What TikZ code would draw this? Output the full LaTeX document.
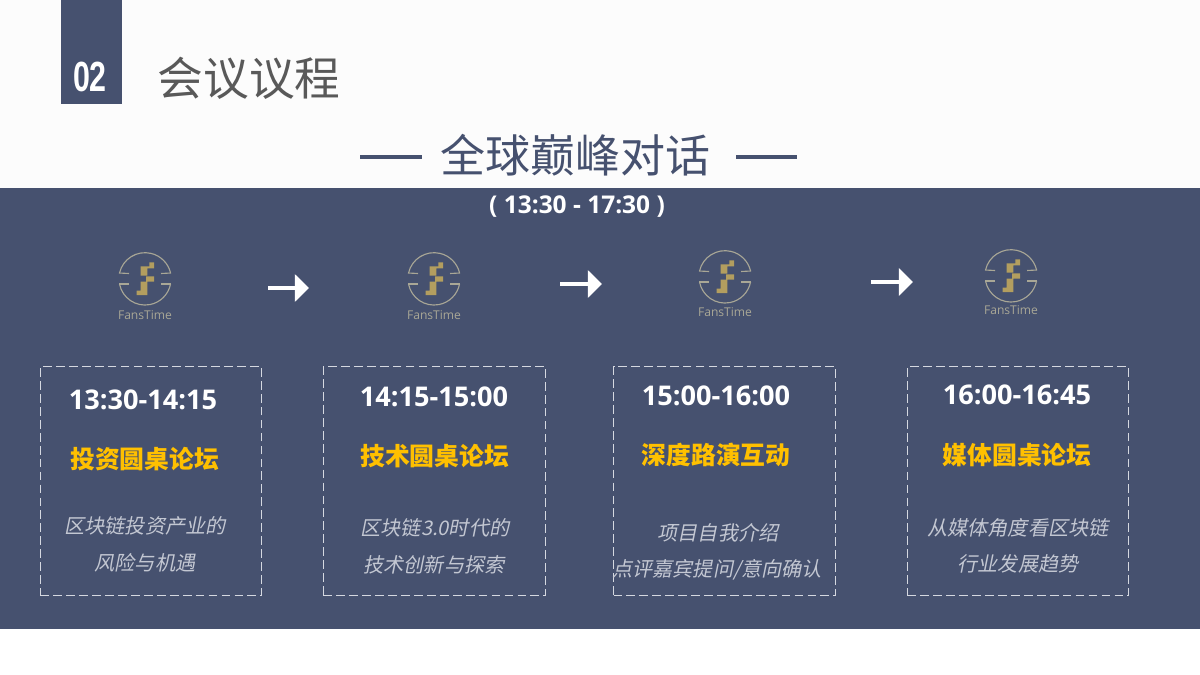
\documentclass[tikz,border=0pt]{standalone}
\usepackage{fontspec}
\setmainfont{Noto Sans CJK SC}
\newfontfamily\slantfont[FakeSlant=0.2]{Noto Sans CJK SC}
\newfontfamily\timefont{Open Sans}
\newfontfamily\numfont[FakeStretch=0.72]{Liberation Sans}
\usepackage{xcolor}
\usetikzlibrary{arrows.meta}
\definecolor{bandblue}{HTML}{46516F}
\definecolor{paper}{HTML}{FCFCFC}
\definecolor{heading}{HTML}{595959}
\definecolor{talkgold}{HTML}{FFC000}
\definecolor{logogold}{HTML}{B39E5F}
\definecolor{logogrey}{HTML}{A9A796}
\definecolor{desctext}{HTML}{C3C7D2}
\definecolor{dashgrey}{HTML}{D5D8E0}
\tikzset{
  timetext/.style={text=white,font=\timefont\bfseries\fontsize{19.3}{22}\selectfont},
  talktext/.style={text=talkgold,font=\bfseries\fontsize{17.6}{21}\selectfont},
  desctxt/.style={text=desctext,font=\slantfont\fontsize{14.3}{17}\selectfont},
  dashbox/.style={draw=dashgrey,line width=1pt,dash pattern=on 6.2pt off 3pt,minimum height=229*0.7112pt,inner sep=0pt},
  nextarrow/.style={white,line width=3.2pt,-{Triangle[length=10pt,width=19pt]}}
}
% logo: ring broken left and right, stepped F, word below
\newcommand{\fanslogo}[4]{
  \begin{scope}[shift={(#1,#2)}]
    \draw [logogrey,line width=0.8pt] (-26,-6) -- (-16,-5.5);
    \draw [logogrey,line width=0.8pt] (26,-6) -- (16,-5.5);
    \draw [logogrey,line width=0.8pt] (-26,5) -- (-16,5);
    \draw [logogrey,line width=0.8pt] (26,5) -- (16,5);
    \draw [logogrey,line width=0.8pt] (-25.5,-6) arc [start angle=-167,end angle=-13,radius=26.2];
    \draw [logogrey,line width=0.8pt] (-25.5,5) arc [start angle=169,end angle=11,radius=26];
    \fill [logogold] (-4.3,-12.7) -- (4.3,-12.7) -- (4.3,-16.7) -- (9,-16.7) -- (9,-10.7) -- (2.3,-10.7) -- (2.3,-3.3) -- (-4.3,-3.3) -- cycle;
    \fill [logogold] (-4.3,2.7) -- (1,2.7) -- (1,-2.7) -- (9,-2.7) -- (9,2.7) -- (2.3,2.7) -- (2.3,16) -- (-8.3,16) -- (-8.3,11.7) -- (-4.3,11.7) -- cycle;
    \node (#3) [logogrey,font=\timefont\fontsize{8.6}{10}\selectfont] at (0,#4) {FansTime};
  \end{scope}
}
\begin{document}
\begin{tikzpicture}[x=0.025cm,y=-0.025cm]
  \useasboundingbox (0,0) rectangle (1200,675);
  \fill [paper] (0,0) rectangle (1200,188);
  \fill [white] (0,629) rectangle (1200,675);
  \fill [bandblue] (0,188) rectangle (1200,629);
  \fill [bandblue] (61,0) rectangle (122,104);
  \node (number) [white,font=\numfont\bfseries\fontsize{30}{33}\selectfont] at (90,77) {02};
  \node (agenda) [heading,font=\fontsize{32.5}{36}\selectfont] at (249,78) {会议议程};
  \node (dialog) [bandblue,font=\fontsize{32}{36}\selectfont] at (575,155) {全球巅峰对话};
  \coordinate (ruleLa) at (360,157);
  \coordinate (ruleLb) at (422,157);
  \coordinate (ruleRa) at (736,157);
  \coordinate (ruleRb) at (797,157);
  \draw [bandblue,line width=2.2pt] (ruleLa) -- (ruleLb);
  \draw [bandblue,line width=2.2pt] (ruleRa) -- (ruleRb);
  \node (session) [white,font=\timefont\bfseries\fontsize{17.4}{20}\selectfont] at (577,206.5) {( 13:30 - 17:30 )};

  \fanslogo{145}{279}{logoA}{36}
  \fanslogo{434}{279}{logoB}{36}
  \fanslogo{725}{277}{logoC}{35}
  \fanslogo{1011}{276}{logoD}{34}

  \coordinate (arrowAa) at (268,288);
  \coordinate (arrowAb) at (309,288);
  \coordinate (arrowBa) at (560,284);
  \coordinate (arrowBb) at (602,284);
  \coordinate (arrowCa) at (871,282);
  \coordinate (arrowCb) at (913,282);
  \draw [nextarrow] (arrowAa) -- (arrowAb);
  \draw [nextarrow] (arrowBa) -- (arrowBb);
  \draw [nextarrow] (arrowCa) -- (arrowCb);

  \node (boxA) [dashbox,minimum width=221*0.7112pt] at (151,481) {};
  \node (boxB) [dashbox,minimum width=222*0.7112pt] at (434.5,481) {};
  \node (boxC) [dashbox,minimum width=222*0.7112pt] at (724.5,481) {};
  \node (boxD) [dashbox,minimum width=221*0.7112pt] at (1018,481) {};

  \node (timeA) [timetext] at (143,400) {13:30-14:15};
  \node (talkA) [talktext] at (144.5,459) {投资圆桌论坛};
  \node (descAa) [desctxt] at (145,526) {区块链投资产业的};
  \node (descAb) [desctxt] at (145,563) {风险与机遇};

  \node (timeB) [timetext] at (434,397) {14:15-15:00};
  \node (talkB) [talktext] at (434.5,456) {技术圆桌论坛};
  \node (descBa) [desctxt] at (435,528) {区块链3.0时代的};
  \node (descBb) [desctxt] at (434,565) {技术创新与探索};

  \node (timeC) [timetext] at (716,396) {15:00-16:00};
  \node (talkC) [talktext] at (716,455) {深度路演互动};
  \node (descCa) [desctxt] at (718,533) {项目自我介绍};
  \node (descCb) [desctxt] at (717,570) {点评嘉宾提问/意向确认};

  \node (timeD) [timetext] at (1017,395) {16:00-16:45};
  \node (talkD) [talktext] at (1017,455) {媒体圆桌论坛};
  \node (descDa) [desctxt] at (1018,528) {从媒体角度看区块链};
  \node (descDb) [desctxt] at (1018,564) {行业发展趋势};
\end{tikzpicture}
\end{document}
